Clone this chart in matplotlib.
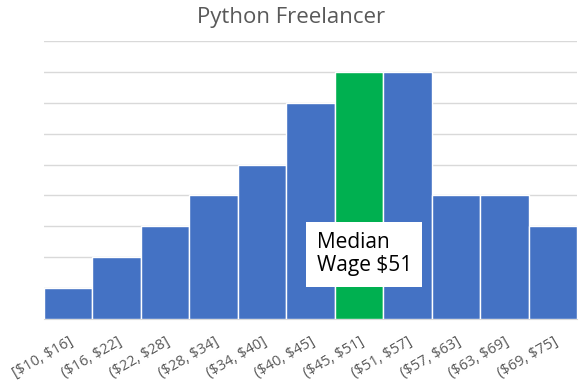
import matplotlib
matplotlib.use("Agg")
import matplotlib.pyplot as plt

plt.rcParams['font.family'] = ['Open Sans', 'DejaVu Sans']
plt.rcParams['text.parse_math'] = False

categories = ["[$10, $16]", "($16, $22]", "($22, $28]", "($28, $34]", "($34, $40]",
              "($40, $45]", "($45, $51]", "($51, $57]", "($57, $63]", "($63, $69]",
              "($69, $75]"]
counts = [1, 2, 3, 4, 5, 7, 8, 8, 4, 4, 3]
median_label = "($45, $51]"
title = "Python Freelancer"
annotation = "Median\nWage $51"

blue = "#4472C4"
green = "#00B050"
colors = [green if c == median_label else blue for c in categories]

fig = plt.figure(figsize=(5.85, 3.85), dpi=100)
ax = fig.add_axes([44/585, 1-319/385, (577-44)/585, (319-41)/385])

x = list(range(len(categories)))
ax.bar(x, counts, width=1.0, color=colors, edgecolor="white", linewidth=1.0, zorder=3)
ax.set_xlim(-0.5, len(categories)-0.5)
ax.set_ylim(0, 9)
ax.set_yticks(range(0, 10))
ax.yaxis.grid(True, color="#D9D9D9", linewidth=1.0, zorder=0)
ax.tick_params(axis='y', left=False, labelleft=False)
ax.tick_params(axis='x', length=0, pad=11)
for s in ["left", "right", "top"]:
    ax.spines[s].set_visible(False)
ax.spines["bottom"].set_color("#D9D9D9")
ax.set_xticks(x)
ax.set_xticklabels(categories, rotation=30, ha="right", rotation_mode="anchor",
                   color="#595959", fontsize=10.5)

fig.text(0.498, 1-18/385, title, ha="center", va="center", fontsize=16, color="#595959")

ax.text(5.13, 2.1, annotation, ha="left", va="center", fontsize=15, color="black",
        linespacing=1.15, zorder=5,
        bbox=dict(boxstyle="square,pad=0.5", facecolor="white", edgecolor="none"))

fig.savefig("out.png", dpi=100)
